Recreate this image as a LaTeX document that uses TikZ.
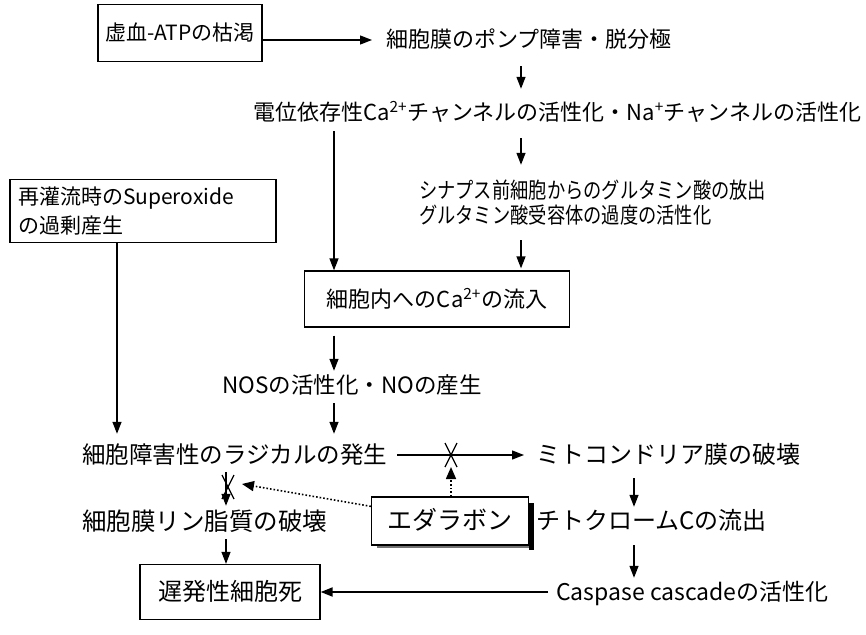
\documentclass[tikz,border=0pt]{standalone}
\usepackage{fontspec}
\setmainfont{Noto Sans CJK JP}
\newfontfamily\narrowerjp[FakeStretch=0.83]{Noto Sans CJK JP}
\usetikzlibrary{arrows.meta,calc}
\begin{document}
\begin{tikzpicture}[x=1pt,y=-1pt,
  txt/.style={inner sep=0pt,text height=19pt,text depth=3pt,font=\fontsize{22}{26}\selectfont,anchor=west},
  box/.style={draw,line width=1.3pt,fill=white,font=\fontsize{22}{26}\selectfont,inner sep=0pt,text height=19pt,text depth=3pt},
  fs/.style={font=\fontsize{#1}{#1}\selectfont},
  arr/.style={line width=1.3pt,-{Triangle[length=12pt,width=9pt]}},
  dotarr/.style={line width=1.6pt,dotted,-{Triangle[length=12pt,width=10pt]}},
  xmark/.style={line width=1.3pt}
]
\useasboundingbox[fill=white] (0,0) rectangle (866,634);
% nodes
\node[box,fs=21,minimum width=164pt,minimum height=57pt] (A) at (180,33) {虚血-ATPの枯渇};
\node[txt] (B) at (386,40) {細胞膜のポンプ障害・脱分極};
\node[txt] (C) at (253,112) {電位依存性Ca\textsuperscript{2+}チャンネルの活性化・Na\textsuperscript{+}チャンネルの活性化};
\node[txt,font=\narrowerjp\fontsize{22}{26}\selectfont] (D1) at (419,190) {シナプス前細胞からのグルタミン酸の放出};
\node[txt,font=\narrowerjp\fontsize{22}{26}\selectfont] (D2) at (419,215) {グルタミン酸受容体の過度の活性化};
\node[box,minimum width=265pt,minimum height=56pt] (E) at (437,299) {細胞内へのCa\textsuperscript{2+}の流入};
\node[draw,line width=1.3pt,fill=white,inner sep=0pt,minimum width=266pt,minimum height=63pt,align=left,text width=250pt,font=\fontsize{21}{29}\selectfont] (F) at (143,211) {再灌流時のSuperoxide\\の過剰産生};
\node[txt,fs=22.5] (H) at (222,385) {NOSの活性化・NOの産生};
\node[txt,fs=23.5] (G) at (82,455) {細胞障害性のラジカルの発生};
\node[txt,fs=24] (I) at (536,455) {ミトコンドリア膜の破壊};
\node[txt,fs=24] (J) at (536,521) {チトクロームCの流出};
\node[txt,fs=23] (K) at (556,592) {Caspase cascadeの活性化};
\node[box,fs=24,minimum width=180pt,minimum height=55pt] (L) at (230,592) {遅発性細胞死};
\node[txt,fs=24.5] (M) at (82,522) {細胞膜リン脂質の破壊};
\node[box,fs=25,minimum width=157pt,minimum height=48pt] (N) at (450,521) {エダラボン};
\fill[black] ($(N.north east)+(0,7)$) rectangle ($(N.south east)+(5,4)$);
\fill[black!55] ($(N.south west)+(6,0)$) rectangle ($(N.south east)+(0,2.5)$);
% helper coordinates
\coordinate (x521) at (521,0);
\coordinate (x334) at (334,0);
\coordinate (x117) at (117,0);
\coordinate (x634) at (634,0);
\coordinate (x226) at (226,0);
\coordinate (x451) at (451,0);
\coordinate (X1) at (451,455);
\coordinate (X2) at (228,487);
% arrows
\draw[arr] (A.east |- B.west) -- ([xshift=-14pt]B.west);
\draw[arr,shorten <=15pt,shorten >=12pt] (x521 |- B.south) -- (x521 |- C.north);
\draw[arr,shorten <=15pt,shorten >=14pt] (x521 |- C.south) -- (x521 |- D1.north);
\draw[arr,shorten <=14pt,shorten >=2pt] (x521 |- D2.south) -- (x521 |- E.north);
\draw[arr,shorten <=8pt] (x334 |- C.south) -- (x334 |- E.north);
\draw[arr,shorten <=8pt,shorten >=3pt] (x334 |- E.south) -- (x334 |- H.north);
\draw[arr,shorten <=7pt,shorten >=10pt] (x334 |- H.south) -- (x334 |- G.north);
\draw[arr,shorten >=10pt] (x117 |- F.south) -- (x117 |- G.north);
\draw[arr,shorten <=10pt,shorten >=12pt] (G.east) -- (I.west);
\draw[arr,shorten <=12pt,shorten >=3pt] (x634 |- I.south) -- (x634 |- J.north);
\draw[arr,shorten <=13pt,shorten >=3pt] (x634 |- J.south) -- (x634 |- K.north);
\draw[arr,line width=2pt,shorten <=8pt] (K.west) -- (L.east);
\draw[arr,shorten <=6pt,shorten >=5pt] (x226 |- G.south) -- (x226 |- M.north);
\draw[arr,shorten <=6pt] (x226 |- M.south) -- (x226 |- L.north);
% X marks
\draw[xmark] ($(X1)+(-6,-12)$) -- ($(X1)+(6,12)$) ($(X1)+(6,-12)$) -- ($(X1)+(-6,12)$);
\draw[xmark] ($(X2)+(-6,-12)$) -- ($(X2)+(6,12)$) ($(X2)+(6,-12)$) -- ($(X2)+(-6,12)$);
% dotted arrows from edaravone
\draw[dotarr] (x451 |- N.north) -- ($(X1)+(0,12)$);
\draw[dotarr] ($(N.north west)+(0,10)$) -- ($(X2)+(14,-3)$);
\end{tikzpicture}
\end{document}
